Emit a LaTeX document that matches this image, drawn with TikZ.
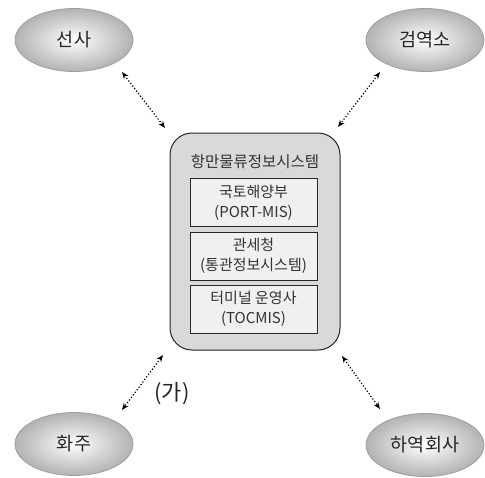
\documentclass[tikz,border=0pt]{standalone}
\usepackage{fontspec}
\setmainfont{Noto Sans CJK KR}
\usetikzlibrary{arrows.meta,shapes.geometric}
\definecolor{boxgray}{HTML}{D9D9D9}
\definecolor{innergray}{HTML}{F0F0F0}
\tikzset{
  party/.style={ellipse, draw=gray!75, line width=0.8pt, minimum width=118pt, minimum height=63pt,
    shading=radial, inner color=white, outer color=gray!60, font=\fontsize{18.5}{20}\selectfont, text=black!85},
  sysbox/.style={draw=black!85, line width=0.9pt, fill=innergray, minimum width=127pt, minimum height=48pt,
    align=center, font=\fontsize{15}{20}\selectfont, text=black!80, inner sep=0pt},
  conn/.style={black, dotted, line width=1.2pt, {Stealth[length=7pt,width=5.5pt]}-{Stealth[length=7pt,width=5.5pt]}}
}
\begin{document}
\begin{tikzpicture}[x=1pt,y=-1pt]
\useasboundingbox (0,0) rectangle (485,477);
\node[party] (sunsa) at (74,40) {선사};
\node[party] (geom) at (425,40) {검역소};
\node[party] (hwaju) at (74,444) {화주};
\node[party] (hayeok) at (425,445) {하역회사};
\node[draw=black!85, line width=1pt, fill=boxgray, rounded corners=22pt, minimum width=170pt, minimum height=217pt] (main) at (255,241.5) {};
\node[font=\fontsize{15.5}{18}\selectfont, text=black!80] (title) at (255,162) {항만물류정보시스템};
\node[sysbox] (b1) at (253.5,202.5) {국토해양부\\(PORT-MIS)};
\node[sysbox] (b2) at (253.5,256) {관세청\\(통관정보시스템)};
\node[sysbox] (b3) at (253.5,309) {터미널 운영사\\(TOCMIS)};
\node[font=\fontsize{22}{24}\selectfont, text=black!85] (ga) at (172,394) {(가)};
\coordinate (c1a) at (122,72); \coordinate (c1b) at (165,128);
\coordinate (c2a) at (380,72); \coordinate (c2b) at (338,127);
\coordinate (c3a) at (163,355); \coordinate (c3b) at (122,410);
\coordinate (c4a) at (342,356); \coordinate (c4b) at (380,409);
\draw[conn] (c1a) -- (c1b);
\draw[conn] (c2a) -- (c2b);
\draw[conn] (c3a) -- (c3b);
\draw[conn] (c4a) -- (c4b);
\end{tikzpicture}
\end{document}
